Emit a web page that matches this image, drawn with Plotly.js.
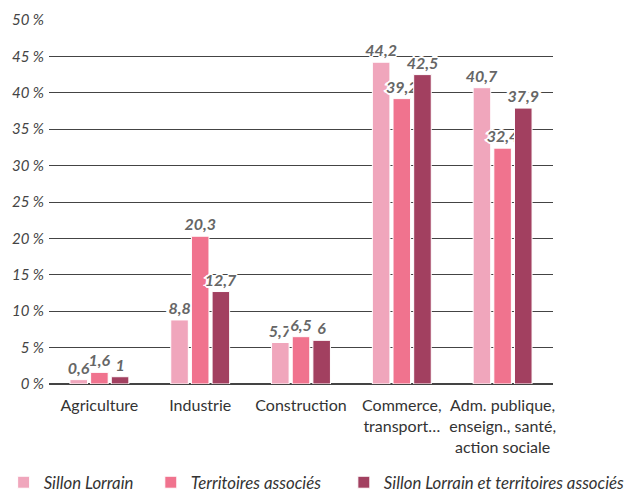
<!DOCTYPE html>
<html><head><meta charset="utf-8">
<script src="https://cdn.plot.ly/plotly-3.0.1.min.js"></script>
<style>body{margin:0;background:#fff}#c{width:630px;height:495px}</style>
</head><body><div id="c"></div>
<script>
const categories = ["Agriculture", "Industrie", "Construction", "Commerce,<br>transport…", "Adm. publique,<br>enseign., santé,<br>action sociale"];
const seriesNames = ["Sillon Lorrain", "Territoires associés", "Sillon Lorrain et territoires associés"];
const sillon = [0.6, 8.8, 5.7, 44.2, 40.7];
const territoires = [1.6, 20.3, 6.5, 39.2, 32.4];
const ensemble = [1, 12.7, 6, 42.5, 37.9];
const colors = ["#f0a6bc", "#f0738e", "#a24060"];
const yTicks = [0, 5, 10, 15, 20, 25, 30, 35, 40, 45, 50];

const halo = "1px 1px 0 #fff, -1px -1px 0 #fff, 1px -1px 0 #fff, -1px 1px 0 #fff, 2px 0 0 #fff, -2px 0 0 #fff, 0 2px 0 #fff, 0 -2px 0 #fff, 3px 0 0 #fff, -3px 0 0 #fff";
const FONT = "Lato, 'Noto Sans', sans-serif";
const legendIds = ["legend", "legend2", "legend3"];
const data = [sillon, territoires, ensemble].map((vals, i) => ({
  type: "bar",
  name: seriesNames[i],
  legend: legendIds[i],
  x: categories,
  y: vals,
  marker: {color: colors[i], line: {color: "#fff", width: 1}},
  texttemplate: "%{y}",
  textposition: "outside",
  constraintext: "none",
  cliponaxis: false,
  textfont: {family: FONT, size: 16, color: "#666", style: "italic", weight: 700, shadow: halo},
  hoverinfo: "none"
}));

function leg(x) {
  return {orientation: "h", x: x, xanchor: "left", y: -0.222, yanchor: "top",
          font: {family: FONT, size: 16.8, color: "#333", style: "italic"},
          itemwidth: 30, bgcolor: "rgba(0,0,0,0)"};
}

const layout = {
  width: 630, height: 495,
  margin: {l: 49, r: 77, t: 20, b: 111, autoexpand: false},
  separators: ",.",
  barmode: "group",
  bargap: 0.385,
  bargroupgap: 0.15,
  showlegend: true,
  legend: leg(-0.09),
  legend2: leg(0.202),
  legend3: leg(0.585),
  font: {family: FONT},
  xaxis: {tickfont: {family: FONT, size: 16, color: "#333"}, showgrid: false, showline: false,
          ticks: "", fixedrange: true, automargin: false, ticklabelstandoff: 10},
  yaxis: {range: [0, 50], tickvals: yTicks, ticktext: yTicks.map(v => v + "\u202f%"),
          tickfont: {family: FONT, size: 15, color: "#444", style: "italic"},
          showgrid: true, gridcolor: "#444", gridwidth: 1, zeroline: true, zerolinecolor: "#444",
          zerolinewidth: 1.5, ticks: "", ticklabelstandoff: 4, fixedrange: true, automargin: false},
  plot_bgcolor: "#fff", paper_bgcolor: "#fff"
};
Plotly.newPlot("c", data, layout, {displayModeBar: false, staticPlot: true});
</script></body></html>
